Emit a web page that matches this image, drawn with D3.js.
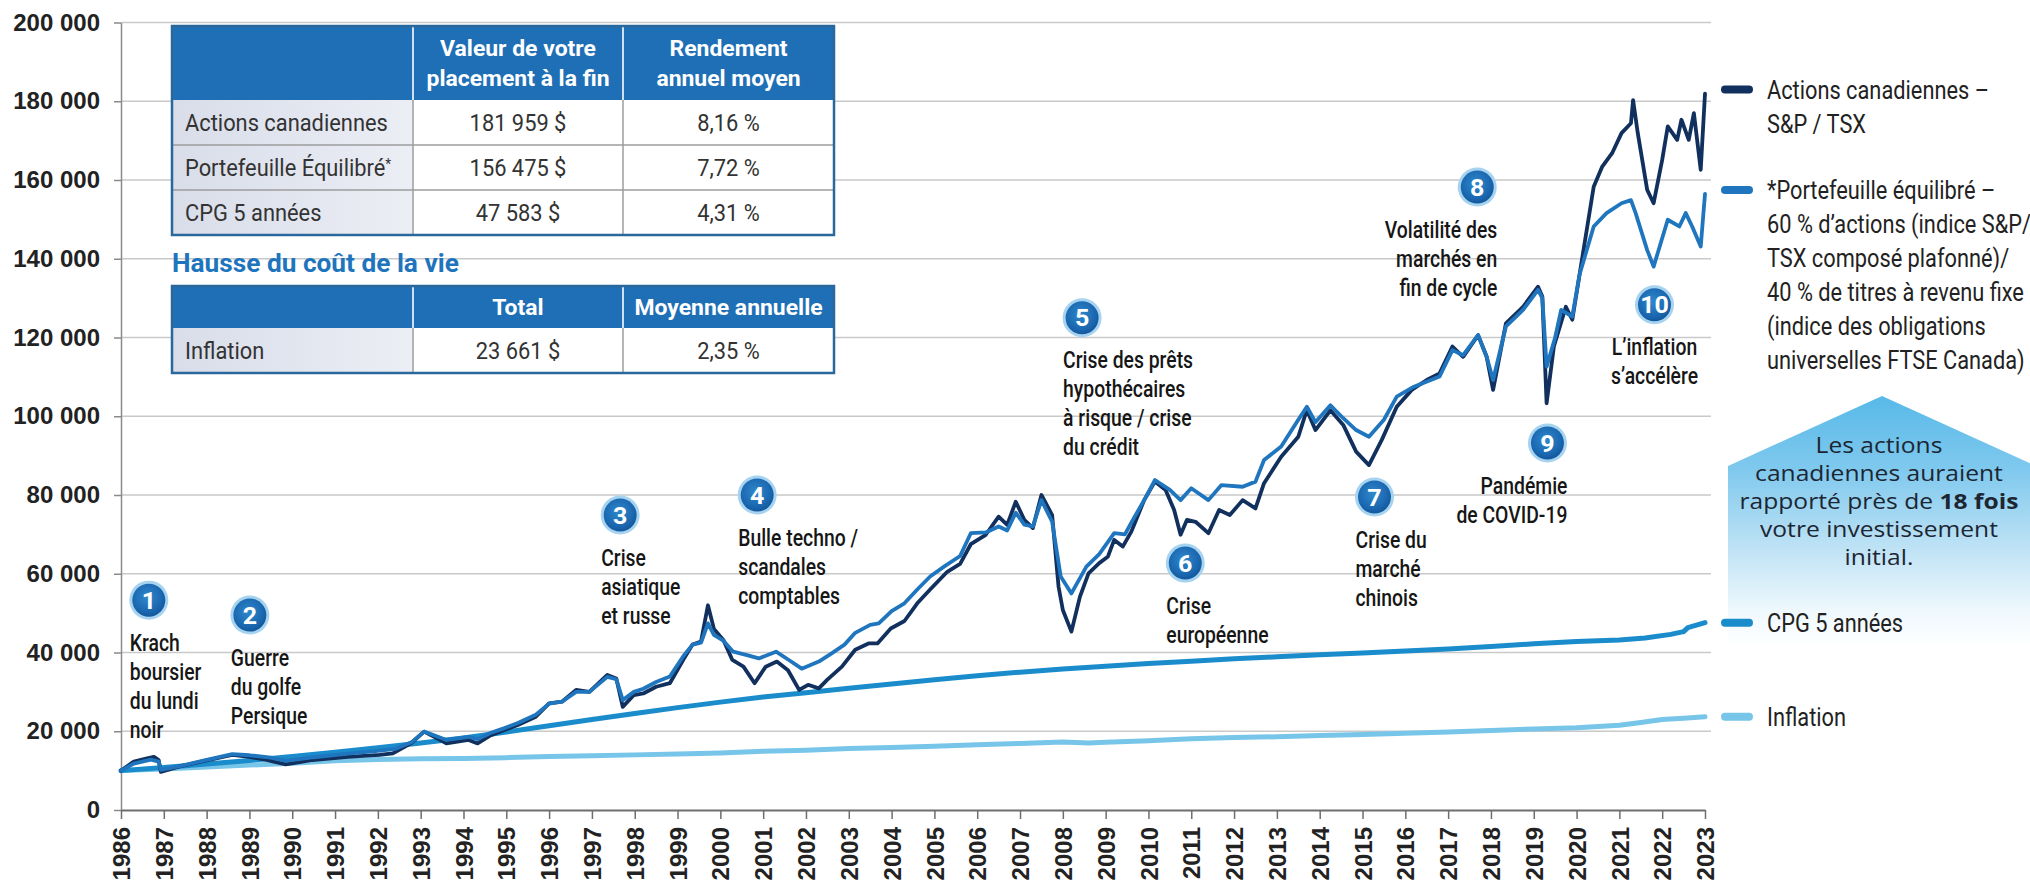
<!DOCTYPE html>
<html>
<head>
<meta charset="utf-8">
<script src="https://cdn.jsdelivr.net/npm/d3@7"></script>
<style>
  body { margin: 0; background: #fff; }
  svg { display: block; }
</style>
</head>
<body>
<div id="chart"></div>
<script>
// Données (placement initial de 10 000 $)
const years = d3.range(1986, 2024);
const yTicks = d3.range(0, 200001, 20000);

const actions = [[1986.00,10000],[1986.30,12300],[1986.61,13100],[1986.77,13500],[1986.88,12700],[1986.93,9700],[1987.35,11000],[1987.87,12300],[1988.60,14000],[1989.00,13500],[1989.40,12700],[1989.85,11600],[1990.47,12700],[1991.30,13500],[1992.04,14000],[1992.35,14400],[1992.77,16900],[1993.08,19900],[1993.45,17800],[1993.60,16900],[1994.12,17800],[1994.33,16900],[1994.64,19000],[1994.96,20300],[1995.27,21600],[1995.69,23700],[1996.00,27100],[1996.30,27500],[1996.63,30500],[1996.94,30000],[1997.36,34300],[1997.57,33400],[1997.72,26200],[1997.98,29200],[1998.20,29600],[1998.50,31300],[1998.82,32200],[1999.13,38100],[1999.35,42000],[1999.55,42800],[1999.71,52000],[1999.85,46000],[2000.07,43200],[2000.28,38100],[2000.54,36400],[2000.80,32200],[2001.06,36400],[2001.32,37700],[2001.58,35500],[2001.84,30500],[2002.05,31800],[2002.30,30900],[2002.50,33100],[2002.84,36400],[2003.15,40700],[2003.46,42300],[2003.67,42300],[2003.98,46100],[2004.30,48000],[2004.60,52500],[2004.90,56000],[2005.30,60500],[2005.60,62500],[2005.85,67500],[2006.20,69900],[2006.50,74500],[2006.70,72400],[2006.90,78300],[2007.10,73700],[2007.30,71600],[2007.50,80000],[2007.75,74900],[2007.90,56700],[2008.00,50800],[2008.20,45300],[2008.40,54200],[2008.60,60100],[2008.85,62700],[2009.05,64300],[2009.20,68600],[2009.40,66900],[2009.60,70700],[2009.90,78700],[2010.15,83400],[2010.40,81300],[2010.60,76200],[2010.75,69900],[2010.90,73700],[2011.10,73200],[2011.40,70300],[2011.65,76200],[2011.90,74900],[2012.20,78700],[2012.50,76600],[2012.70,83000],[2013.10,89700],[2013.50,94800],[2013.70,101600],[2013.90,96500],[2014.25,101500],[2014.55,97800],[2014.85,91000],[2015.15,87600],[2015.45,94000],[2015.80,102400],[2016.15,106700],[2016.50,109200],[2016.80,110900],[2017.10,117700],[2017.35,115100],[2017.70,120600],[2017.90,115100],[2018.05,106700],[2018.35,123600],[2018.75,127800],[2019.10,132900],[2019.20,130400],[2019.30,103300],[2019.47,117700],[2019.75,127800],[2019.90,124500],[2020.07,136000],[2020.40,158300],[2020.60,163400],[2020.83,166800],[2021.05,171900],[2021.27,174400],[2021.32,180300],[2021.43,171900],[2021.65,157500],[2021.80,154100],[2022.00,165100],[2022.13,173600],[2022.35,170200],[2022.45,175300],[2022.62,170200],[2022.74,177000],[2022.90,162600],[2023.00,181959]];

const equilibre = [[1986.00,10000],[1986.30,11800],[1986.70,12800],[1986.88,12300],[1986.93,10200],[1987.40,11200],[1987.90,12500],[1988.60,14200],[1989.00,13900],[1989.50,13300],[1989.85,12500],[1990.50,13400],[1991.30,14300],[1992.00,15000],[1992.40,15500],[1992.80,17300],[1993.08,19900],[1993.45,18400],[1993.60,17800],[1994.12,18600],[1994.33,18000],[1994.64,19600],[1994.96,20800],[1995.27,22100],[1995.69,24200],[1996.00,27000],[1996.30,27500],[1996.63,30000],[1996.94,30000],[1997.36,33800],[1997.57,33200],[1997.72,27900],[1997.98,30000],[1998.20,30800],[1998.50,32500],[1998.82,33900],[1999.13,39000],[1999.35,42000],[1999.55,42500],[1999.71,47400],[1999.85,44500],[2000.07,43000],[2000.30,40200],[2000.60,39400],[2000.90,38500],[2001.30,40200],[2001.60,38100],[2001.90,35900],[2002.30,37700],[2002.60,39800],[2002.90,42000],[2003.15,45000],[2003.50,47000],[2003.70,47400],[2004.00,50500],[2004.30,52500],[2004.60,56000],[2004.90,59300],[2005.25,62000],[2005.60,64500],[2005.85,70300],[2006.20,70500],[2006.50,72000],[2006.70,71000],[2006.90,75500],[2007.10,72500],[2007.30,72000],[2007.50,78700],[2007.75,73200],[2007.95,59300],[2008.20,55000],[2008.55,61800],[2008.85,65000],[2009.20,70300],[2009.45,70000],[2009.60,73000],[2009.90,78700],[2010.15,83800],[2010.50,81300],[2010.75,78700],[2011.00,81700],[2011.40,78700],[2011.70,82500],[2012.20,82100],[2012.50,83400],[2012.70,88900],[2013.10,92300],[2013.50,99100],[2013.70,102400],[2013.90,98500],[2014.25,102800],[2014.55,99500],[2014.85,96500],[2015.15,94800],[2015.50,99100],[2015.80,105000],[2016.20,107500],[2016.80,110100],[2017.10,116800],[2017.35,115500],[2017.70,120600],[2017.90,115100],[2018.05,109200],[2018.35,122800],[2018.75,127000],[2019.10,132100],[2019.20,130000],[2019.30,112600],[2019.50,120000],[2019.64,127000],[2019.90,125300],[2020.07,136000],[2020.40,148200],[2020.70,151600],[2021.05,154100],[2021.27,154900],[2021.38,151600],[2021.65,142200],[2021.80,138000],[2022.13,149900],[2022.40,148200],[2022.55,151600],[2022.70,148200],[2022.90,143100],[2023.00,156475]];

const cpg = [[1986,10000],[1987,10800],[1988,11700],[1989,12600],[1990,13600],[1991,14700],[1992,15800],[1993,17000],[1994,18300],[1995,19800],[1996,21400],[1997,23000],[1998,24500],[1999,26000],[2000,27400],[2001,28700],[2002,29800],[2003,30900],[2004,32000],[2005,33100],[2006,34100],[2007,35000],[2008,35800],[2009,36500],[2010,37200],[2011,37800],[2012,38400],[2013,38900],[2014,39400],[2015,39900],[2016,40400],[2017,40900],[2018,41500],[2019,42200],[2020,42800],[2021,43200],[2021.6,43700],[2022.2,44600],[2022.5,45300],[2022.6,46300],[2023,47583]];

const inflation = [[1986,10000],[1987,10400],[1988,10900],[1989,11400],[1990,11900],[1991,12500],[1992,12800],[1993,13000],[1994,13100],[1995,13300],[1996,13600],[1997,13800],[1998,14000],[1999,14200],[2000,14500],[2001,14900],[2002,15200],[2003,15600],[2004,15900],[2005,16200],[2006,16600],[2007,16900],[2008,17300],[2008.6,17000],[2009,17200],[2010,17600],[2011,18100],[2012,18400],[2013,18600],[2014,18900],[2015,19200],[2016,19500],[2017,19800],[2018,20200],[2019,20600],[2020,20900],[2021,21500],[2021.5,22200],[2022,23000],[2022.5,23300],[2023,23661]];

const legendLabels = [
  ["Actions canadiennes –", "S&P / TSX"],
  ["*Portefeuille équilibré –", "60 % d’actions (indice S&P/", "TSX composé plafonné)/", "40 % de titres à revenu fixe", "(indice des obligations", "universelles FTSE Canada)"],
  ["CPG 5 années"],
  ["Inflation"]
];

const table1Header = ["", "Valeur de votre|placement à la fin", "Rendement|annuel moyen"];
const table1Rows = [
  ["Actions canadiennes", "181 959 $", "8,16 %"],
  ["Portefeuille Équilibré*", "156 475 $", "7,72 %"],
  ["CPG 5 années", "47 583 $", "4,31 %"]
];
const table2Title = "Hausse du coût de la vie";
const table2Header = ["", "Total", "Moyenne annuelle"];
const table2Rows = [["Inflation", "23 661 $", "2,35 %"]];

// Événements numérotés (position en année / valeur)
const events = [
  { n: 1, year: 1986.65, value: 53300, lines: ["Krach", "boursier", "du lundi", "noir"] },
  { n: 2, year: 1989.01, value: 49500, lines: ["Guerre", "du golfe", "Persique"] },
  { n: 3, year: 1997.66, value: 74900, lines: ["Crise", "asiatique", "et russe"] },
  { n: 4, year: 2000.86, value: 80000, lines: ["Bulle techno /", "scandales", "comptables"] },
  { n: 5, year: 2008.45, value: 125000, lines: ["Crise des prêts", "hypothécaires", "à risque / crise", "du crédit"] },
  { n: 6, year: 2010.86, value: 62700, lines: ["Crise", "européenne"] },
  { n: 7, year: 2015.28, value: 79500, lines: ["Crise du", "marché", "chinois"] },
  { n: 8, year: 2017.68, value: 158200, lines: ["Volatilité des", "marchés en", "fin de cycle"] },
  { n: 9, year: 2019.32, value: 93200, lines: ["Pandémie", "de COVID-19"] },
  { n: 10, year: 2021.82, value: 128300, lines: ["L’inflation", "s’accélère"] }
];

const calloutLines = ["Les actions", "canadiennes auraient", "rapporté près de |18 fois", "votre investissement", "initial."];

// ---------------------------------------------------------------
const W = 2030, H = 882;
const cond = 'Roboto, "Liberation Sans", sans-serif';
const wide = '"Liberation Sans", Arial, sans-serif';
const callFont = '"Open Sans", "Noto Sans", sans-serif';
const colors = ['#12305d', '#1f76bf', '#1a8ccc', '#78c5ea'];

const svg = d3.select('#chart').append('svg')
  .attr('width', W).attr('height', H);

// largeur d'un texte, pour resserrer la police (pas de police condensée installée)
function measure(txt, size, weight, family) {
  const t = svg.append('text').attr('font-family', family).attr('font-size', size)
    .attr('font-weight', weight).text(txt);
  const w = t.node().getComputedTextLength();
  t.remove();
  return w;
}
const sxLegend = 257 / measure('40 % de titres à revenu fixe', 25, 'normal', cond);
const sxNote = 130 / measure('Crise des prêts', 24, 500, cond);
const sxBody = 203 / measure('Actions canadiennes', 24, 'normal', cond);
const sxHead = 183 / measure('placement à la fin', 22, 'bold', cond);
const sxTitle = 287 / measure('Hausse du coût de la vie', 26, 'bold', cond);
const sxCall = 248 / measure('canadiennes auraient', 22, 'normal', callFont);

function ctext(parent, px, py, sx) {
  return parent.append('text')
    .attr('transform', `translate(${px},${py}) scale(${sx},1)`)
    .attr('dy', '0.36em');
}

const defs = svg.append('defs');
const lg = defs.append('linearGradient').attr('id', 'labelFill')
  .attr('x1', 0).attr('y1', 0).attr('x2', 1).attr('y2', 0);
lg.append('stop').attr('offset', 0).attr('stop-color', '#d8dde9');
lg.append('stop').attr('offset', 1).attr('stop-color', '#eceef5');

const cg = defs.append('linearGradient').attr('id', 'calloutFill')
  .attr('x1', 0).attr('y1', 0).attr('x2', 0).attr('y2', 1);
[[0, '#58b9e8'], [0.3, '#80c9ee'], [0.62, '#c0e3f5'], [0.86, '#eef8fd'], [1, '#ffffff']]
  .forEach(s => cg.append('stop').attr('offset', s[0]).attr('stop-color', s[1]));

const rg = defs.append('radialGradient').attr('id', 'bubble')
  .attr('cx', 0.45).attr('cy', 0.4).attr('r', 0.6);
rg.append('stop').attr('offset', 0).attr('stop-color', '#2f88cc');
rg.append('stop').attr('offset', 0.75).attr('stop-color', '#1a67b0');
rg.append('stop').attr('offset', 1).attr('stop-color', '#14589c');

const x = d3.scaleLinear().domain([1986, 2023]).range([121, 1705]);
const y = d3.scaleLinear().domain([0, 200000]).range([810, 22.5]);

const fr = d3.formatLocale({ decimal: ',', thousands: ' ', grouping: [3], currency: ['', ' $'] });
const fmt = fr.format(',d');

// Encadré flèche (en arrière-plan)
const cx0 = 1728, cx1 = 2036, apexY = 396, shoulderY = 466, boxBottom = 645;
svg.append('path')
  .attr('d', `M${cx0},${boxBottom}L${cx0},${shoulderY}L${(cx0 + cx1) / 2},${apexY}L${cx1},${shoulderY}L${cx1},${boxBottom}Z`)
  .attr('fill', 'url(#calloutFill)');

// Lignes de grille
svg.append('g').selectAll('line')
  .data(yTicks.filter(d => d > 0))
  .join('line')
  .attr('x1', x(1986)).attr('x2', x(2023) + 6)
  .attr('y1', d => y(d)).attr('y2', d => y(d))
  .attr('stroke', '#c9c9c9').attr('stroke-width', 1.6);

// Axe Y
const yAxis = svg.append('g')
  .attr('transform', `translate(${x(1986)},0)`)
  .call(d3.axisLeft(y).tickValues(yTicks).tickSize(7).tickSizeOuter(0).tickPadding(14).tickFormat(fmt));
yAxis.select('.domain').attr('stroke', '#8a8a8a').attr('stroke-width', 1.5);
yAxis.selectAll('.tick line').attr('stroke', '#8a8a8a').attr('stroke-width', 1.5);
yAxis.selectAll('text')
  .attr('font-family', wide).attr('font-size', 24).attr('font-weight', 'bold').attr('fill', '#222');

// Axe X
const xAxis = svg.append('g')
  .attr('transform', `translate(0,${y(0)})`)
  .call(d3.axisBottom(x).tickValues(years).tickSize(9).tickSizeOuter(0).tickFormat(d3.format('d')));
xAxis.select('.domain').attr('stroke', '#6e6e6e').attr('stroke-width', 2);
xAxis.selectAll('.tick line').attr('stroke', '#6e6e6e').attr('stroke-width', 1.5);
xAxis.selectAll('text')
  .attr('transform', 'rotate(-90)')
  .attr('text-anchor', 'end')
  .attr('x', -17).attr('y', 0).attr('dy', '0.36em')
  .attr('font-family', wide).attr('font-size', 24).attr('font-weight', 'bold').attr('fill', '#222');

// Tableaux
const cols = [172, 413, 623, 834];
function drawTable(top, headerH, rowH, header, rows) {
  const g = svg.append('g');
  const bottom = top + headerH + rowH * rows.length;
  g.append('rect').attr('x', cols[0]).attr('y', top)
    .attr('width', cols[3] - cols[0]).attr('height', headerH).attr('fill', '#1f6fb6');
  rows.forEach((r, i) => {
    const ry = top + headerH + i * rowH;
    g.append('rect').attr('x', cols[0]).attr('y', ry)
      .attr('width', cols[1] - cols[0]).attr('height', rowH).attr('fill', 'url(#labelFill)');
    g.append('rect').attr('x', cols[1]).attr('y', ry)
      .attr('width', cols[3] - cols[1]).attr('height', rowH).attr('fill', '#fff');
    if (i > 0) {
      g.append('line').attr('x1', cols[0]).attr('x2', cols[3]).attr('y1', ry).attr('y2', ry)
        .attr('stroke', '#9c9c9c').attr('stroke-width', 1.5);
    }
    r.forEach((c, j) => {
      const t = ctext(g, j === 0 ? cols[0] + 13 : (cols[j] + cols[j + 1]) / 2, ry + rowH / 2, sxBody)
        .attr('text-anchor', j === 0 ? 'start' : 'middle')
        .attr('font-family', cond).attr('font-size', 24).attr('fill', '#333');
      if (c.endsWith('*')) {
        t.append('tspan').text(c.slice(0, -1));
        t.append('tspan').attr('font-size', 15).attr('dy', '-0.5em').text('*');
      } else {
        t.text(c);
      }
    });
  });
  // séparateurs verticaux
  [1, 2].forEach(j => {
    g.append('line').attr('x1', cols[j]).attr('x2', cols[j]).attr('y1', top).attr('y2', top + headerH)
      .attr('stroke', '#cfe0f0').attr('stroke-width', 2);
    g.append('line').attr('x1', cols[j]).attr('x2', cols[j]).attr('y1', top + headerH).attr('y2', bottom)
      .attr('stroke', '#9c9c9c').attr('stroke-width', 1.5);
  });
  // en-têtes
  header.forEach((h, j) => {
    if (!h) return;
    const parts = h.split('|');
    const cxh = (cols[j] + cols[j + 1]) / 2;
    parts.forEach((p, k) => {
      ctext(g, cxh, top + headerH / 2 + (k - (parts.length - 1) / 2) * 30, sxHead)
        .attr('text-anchor', 'middle')
        .attr('font-family', cond).attr('font-size', 22).attr('font-weight', 'bold')
        .attr('fill', '#fff').text(p);
    });
  });
  g.append('rect').attr('x', cols[0]).attr('y', top)
    .attr('width', cols[3] - cols[0]).attr('height', bottom - top)
    .attr('fill', 'none').attr('stroke', '#2a679c').attr('stroke-width', 2.5);
}
drawTable(26, 74, 45, table1Header, table1Rows);
ctext(svg, cols[0], 263, sxTitle)
  .attr('font-family', cond).attr('font-size', 26).attr('font-weight', 'bold')
  .attr('fill', '#1f75bd').text(table2Title);
drawTable(286, 42, 45, table2Header, table2Rows);

// Séries
const series = [inflation, cpg, actions, equilibre];
const seriesColor = [colors[3], colors[2], colors[0], colors[1]];
const seriesWidth = [5, 5, 3.8, 3.8];
const line = d3.line().x(d => x(d[0])).y(d => y(d[1]));
svg.append('g').selectAll('path')
  .data(series)
  .join('path')
  .attr('d', line)
  .attr('fill', 'none')
  .attr('stroke', (d, i) => seriesColor[i])
  .attr('stroke-width', (d, i) => seriesWidth[i])
  .attr('stroke-linejoin', 'round')
  .attr('stroke-linecap', 'round');

// Légende à droite
const legendSeries = [actions, equilibre, cpg, inflation];
const lgG = svg.append('g');
legendSeries.forEach((s, i) => {
  const endY = y(s[s.length - 1][1]) - (i < 2 ? 4 : 0);
  lgG.append('line')
    .attr('x1', x(2023) + 20).attr('x2', x(2023) + 44)
    .attr('y1', endY).attr('y2', endY)
    .attr('stroke', colors[i]).attr('stroke-width', 8).attr('stroke-linecap', 'round');
  legendLabels[i].forEach((t, k) => {
    ctext(lgG, x(2023) + 62, endY + k * 34, sxLegend)
      .attr('font-family', cond).attr('font-size', 25).attr('fill', '#222')
      .text(t);
  });
});

// Texte de l'encadré
const callG = svg.append('g');
calloutLines.forEach((t, k) => {
  const tx = ctext(callG, (cx0 + cx1) / 2 - 3, 445 + k * 28, sxCall)
    .attr('text-anchor', 'middle')
    .attr('font-family', callFont).attr('font-size', 22).attr('fill', '#1c2633');
  const parts = t.split('|');
  tx.append('tspan').text(parts[0]);
  if (parts[1]) tx.append('tspan').attr('font-weight', 'bold').text(parts[1]);
});

// Bulles numérotées et libellés
const alignOf = { 1: 'start', 2: 'start', 3: 'start', 4: 'start', 5: 'start', 6: 'start', 7: 'start', 8: 'end', 9: 'end', 10: 'middle' };
const evG = svg.append('g').selectAll('g')
  .data(events)
  .join('g')
  .attr('transform', d => `translate(${x(d.year)},${y(d.value)})`);
evG.append('circle').attr('r', 19.5).attr('fill', '#a6d3ef');
evG.append('circle').attr('r', 16.5).attr('fill', 'url(#bubble)');
evG.each(function (d) {
  const g = d3.select(this);
  ctext(g, 0, 0, sxHead)
    .attr('text-anchor', 'middle')
    .attr('font-family', cond).attr('font-size', 24).attr('font-weight', 'bold')
    .attr('fill', '#fff').text(d.n);
  const a = alignOf[d.n];
  const tx = a === 'start' ? -19 : a === 'end' ? 20 : 0;
  d.lines.forEach((t, k) => {
    ctext(g, tx, 42 + k * 29, sxNote)
      .attr('text-anchor', a)
      .attr('font-family', cond).attr('font-size', 24).attr('font-weight', 500).attr('fill', '#161616')
      .text(t);
  });
});
</script>
</body>
</html>
